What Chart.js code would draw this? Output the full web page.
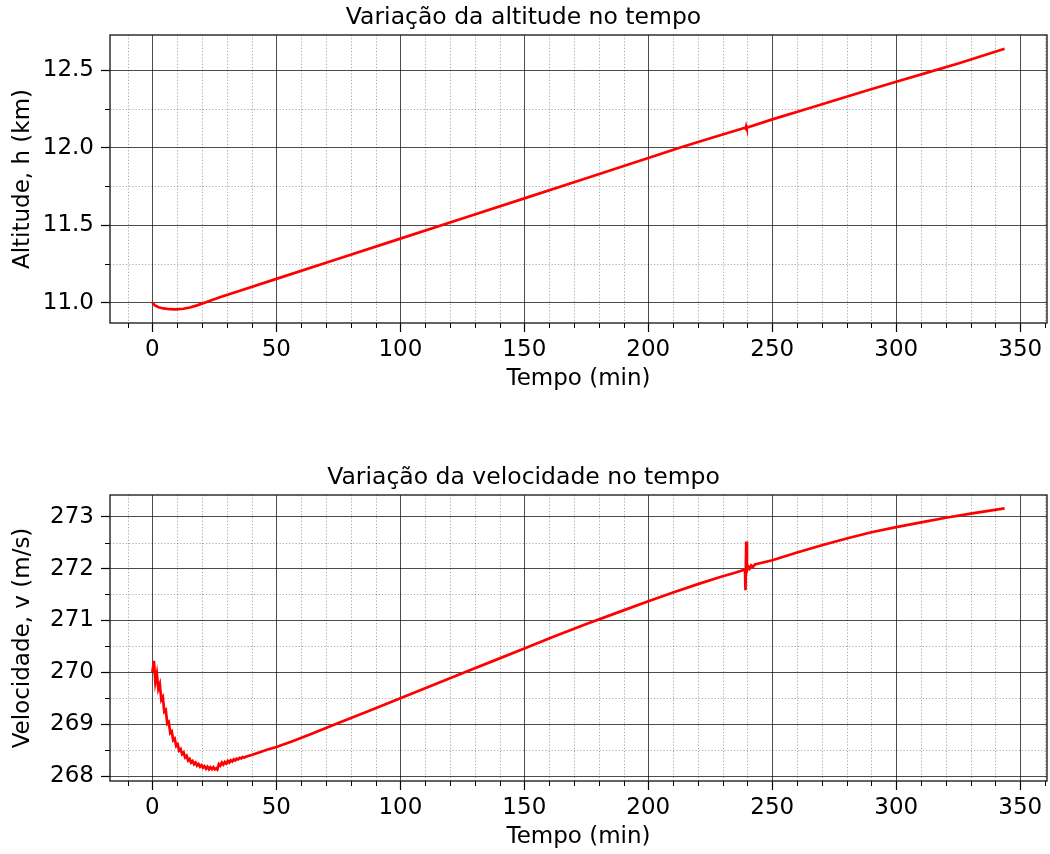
<!DOCTYPE html>
<html><head><meta charset="utf-8">
<script src="https://cdn.jsdelivr.net/npm/chart.js@4/dist/chart.umd.min.js"></script>
<style>
html,body{margin:0;padding:0;background:#fff;width:1050px;height:854px;overflow:hidden;}
.box{position:absolute;left:0;width:1050px;}
</style></head><body>
<div class="box" style="top:0;height:400px"><canvas id="c1"></canvas></div>
<div class="box" style="top:460px;height:394px"><canvas id="c2"></canvas></div>
<script>
// ---- data ----
const timeAlt = [0, 1, 2.5, 4.4, 7, 9.7, 12.5, 15.1, 18, 20.5, 23.5, 27.2, 35.3, 50, 75, 100, 125, 150, 175, 200, 212.6, 225, 239, 239.3, 239.5, 239.7, 240, 250, 262.5, 275, 287.5, 300, 312.5, 325, 343.7];
const altitude = [11.000, 10.982, 10.970, 10.962, 10.957, 10.956, 10.960, 10.968, 10.982, 10.996, 11.013, 11.034, 11.076, 11.153, 11.283, 11.413, 11.543, 11.673, 11.803, 11.934, 12.0, 12.061, 12.129, 12.124, 12.138, 12.127, 12.131, 12.183, 12.244, 12.305, 12.366, 12.426, 12.485, 12.544, 12.639];

const timeVel = [0, 0.6, 1.2, 1.8, 2.4, 3.0, 3.6, 4.2, 4.8, 5.4, 6.0, 6.6, 7.2, 7.8, 8.4, 9.0, 9.6, 10.2, 10.8, 11.4, 12.0, 12.6, 13.2, 13.8, 14.4, 15.0, 15.6, 16.2, 16.8, 17.4, 18.0, 18.6, 19.2, 19.8, 20.4, 21.0, 21.6, 22.2, 22.8, 23.4, 24.0, 24.6, 25.2, 25.8, 26.2, 26.8, 27.4, 28.0, 28.6, 29.2, 29.8, 30.4, 31.0, 31.6, 32.2, 32.8, 33.4, 34.0, 34.6, 35.2, 35.8, 36.4, 37.0, 38, 40, 43.3, 46.5, 50, 56.5, 63.5, 75, 87.5, 100, 112.5, 125, 137.5, 150, 162.5, 175, 187.5, 200, 210, 220, 230, 235, 239.0, 239.2, 239.5, 239.8, 240.3, 240.9, 241.5, 242.2, 243, 250, 260, 270, 280, 290, 300, 310, 320, 330, 343.7];
const velocity = [270.00, 270.22, 269.81, 269.97, 269.68, 269.77, 269.47, 269.52, 269.24, 269.27, 269.01, 269.04, 268.83, 268.86, 268.69, 268.72, 268.58, 268.61, 268.49, 268.52, 268.42, 268.45, 268.36, 268.39, 268.30, 268.33, 268.26, 268.29, 268.23, 268.26, 268.20, 268.23, 268.18, 268.21, 268.16, 268.19, 268.14, 268.18, 268.13, 268.17, 268.13, 268.17, 268.13, 268.15, 268.13, 268.23, 268.20, 268.26, 268.22, 268.27, 268.24, 268.29, 268.26, 268.305, 268.28, 268.32, 268.30, 268.335, 268.32, 268.35, 268.338, 268.366, 268.357, 268.376, 268.405, 268.46, 268.51, 268.56, 268.67, 268.80, 269.02, 269.26, 269.50, 269.74, 269.98, 270.22, 270.46, 270.70, 270.93, 271.15, 271.37, 271.54, 271.70, 271.85, 271.92, 271.98, 271.58, 272.52, 271.96, 272.04, 272.00, 272.06, 272.03, 272.08, 272.16, 272.31, 272.45, 272.58, 272.70, 272.80, 272.89, 272.98, 273.06, 273.16];

const xTicks = [0, 50, 100, 150, 200, 250, 300, 350];
const xMinorTicks = [-10, 10, 20, 30, 40, 60, 70, 80, 90, 110, 120, 130, 140, 160, 170, 180, 190, 210, 220, 230, 240, 260, 270, 280, 290, 310, 320, 330, 340, 360];
const altTicks = [11.0, 11.5, 12.0, 12.5];
const altMinorTicks = [11.25, 11.75, 12.25];
const velTicks = [268, 269, 270, 271, 272, 273];
const velMinorTicks = [268.5, 269.5, 270.5, 271.5, 272.5];

const titles = ['Variação da altitude no tempo', 'Variação da velocidade no tempo'];
const yLabels = ['Altitude, h (km)', 'Velocidade, v (m/s)'];
const xLabel = 'Tempo (min)';

const FONT = 'DejaVu Sans';
const FS = 23;

const frameMinor = {
  id: 'frameMinor',
  beforeDatasetsDraw(chart, args, o) {
    const {ctx, chartArea: a, scales: {x, y}} = chart;
    ctx.save();
    ctx.strokeStyle = 'rgba(0,0,0,0.38)';
    ctx.lineWidth = 0.9;
    ctx.setLineDash([1.2, 2]);
    o.xMinor.forEach(v => {
      const p = Math.round(x.getPixelForValue(v)) + 0.5;
      if (p < a.left || p > a.right) return;
      ctx.beginPath(); ctx.moveTo(p, a.top); ctx.lineTo(p, a.bottom); ctx.stroke();
    });
    o.yMinor.forEach(v => {
      const p = Math.round(y.getPixelForValue(v)) + 0.5;
      if (p < a.top || p > a.bottom) return;
      ctx.beginPath(); ctx.moveTo(a.left, p); ctx.lineTo(a.right, p); ctx.stroke();
    });
    ctx.setLineDash([]);
    ctx.strokeStyle = '#000';
    ctx.lineWidth = 1;
    o.xMinor.forEach(v => {
      const p = Math.round(x.getPixelForValue(v)) + 0.5;
      if (p < a.left || p > a.right) return;
      ctx.beginPath(); ctx.moveTo(p, a.bottom); ctx.lineTo(p, a.bottom + 5); ctx.stroke();
    });
    o.yMinor.forEach(v => {
      const p = Math.round(y.getPixelForValue(v)) + 0.5;
      if (p < a.top || p > a.bottom) return;
      ctx.beginPath(); ctx.moveTo(a.left - 5, p); ctx.lineTo(a.left, p); ctx.stroke();
    });
    ctx.restore();
  },
  afterDatasetsDraw(chart) {
    const {ctx, chartArea: a} = chart;
    ctx.save();
    ctx.strokeStyle = '#222';
    ctx.lineWidth = 1.4;
    ctx.strokeRect(Math.round(a.left), Math.round(a.top), Math.round(a.right - a.left), Math.round(a.bottom - a.top));
    ctx.restore();
  }
};

function makeChart(id, xs, ys, cfg) {
  const pts = xs.map((t, i) => ({x: t, y: ys[i]}));
  return new Chart(document.getElementById(id), {
    type: 'line',
    data: {datasets: [{data: pts, borderColor: '#ff0000', borderWidth: 2.7, pointRadius: 0, tension: 0, fill: false}]},
    options: {
      responsive: true, maintainAspectRatio: false, animation: false,
      layout: {padding: {left: 0, right: 3, top: 0, bottom: 0}},
      plugins: {
        legend: {display: false}, tooltip: {enabled: false},
        title: {display: true, text: cfg.title, color: '#000', font: {family: FONT, size: 23.5, weight: 'normal'}, padding: {top: 4, bottom: 2.8}},
        frameMinor: {xMinor: xMinorTicks, yMinor: cfg.yMinor}
      },
      scales: {
        x: {
          type: 'linear', min: -17.1, max: 360.8,
          afterBuildTicks: s => { s.ticks = xTicks.map(v => ({value: v})); },
          afterFit: s => { s.height = cfg.xHeight; },
          border: {display: false},
          grid: {color: 'rgba(0,0,0,0.7)', lineWidth: 1, tickLength: 9, tickColor: '#000', tickWidth: 1.2},
          ticks: {color: '#000', font: {family: FONT, size: FS}, padding: 4, maxRotation: 0, callback: v => String(v)},
          title: {display: true, text: xLabel, color: '#000', font: {family: FONT, size: FS}, padding: {top: 0, bottom: cfg.xTitlePad}}
        },
        y: {
          type: 'linear', min: cfg.yMin, max: cfg.yMax,
          afterBuildTicks: s => { s.ticks = cfg.yTicks.map(v => ({value: v})); },
          afterFit: s => { s.width = 110; },
          border: {display: false},
          grid: {color: 'rgba(0,0,0,0.7)', lineWidth: 1, tickLength: 9, tickColor: '#000', tickWidth: 1.2},
          ticks: {color: '#000', font: {family: FONT, size: FS}, padding: 7, callback: cfg.fmt},
          title: {display: true, text: cfg.yLabel, color: '#000', font: {family: FONT, size: FS}, padding: {top: 9, bottom: 0}}
        }
      }
    },
    plugins: [frameMinor]
  });
}

makeChart('c1', timeAlt, altitude, {
  title: titles[0], yLabel: yLabels[0], yMin: 10.868, yMax: 12.728,
  yTicks: altTicks, yMinor: altMinorTicks, fmt: v => v.toFixed(1), xHeight: 77, xTitlePad: 7
});
makeChart('c2', timeVel, velocity, {
  title: titles[1], yLabel: yLabels[1], yMin: 267.904, yMax: 273.418,
  yTicks: velTicks, yMinor: velMinorTicks, fmt: v => v.toFixed(0), xHeight: 73, xTitlePad: 3
});
</script>
</body></html>
